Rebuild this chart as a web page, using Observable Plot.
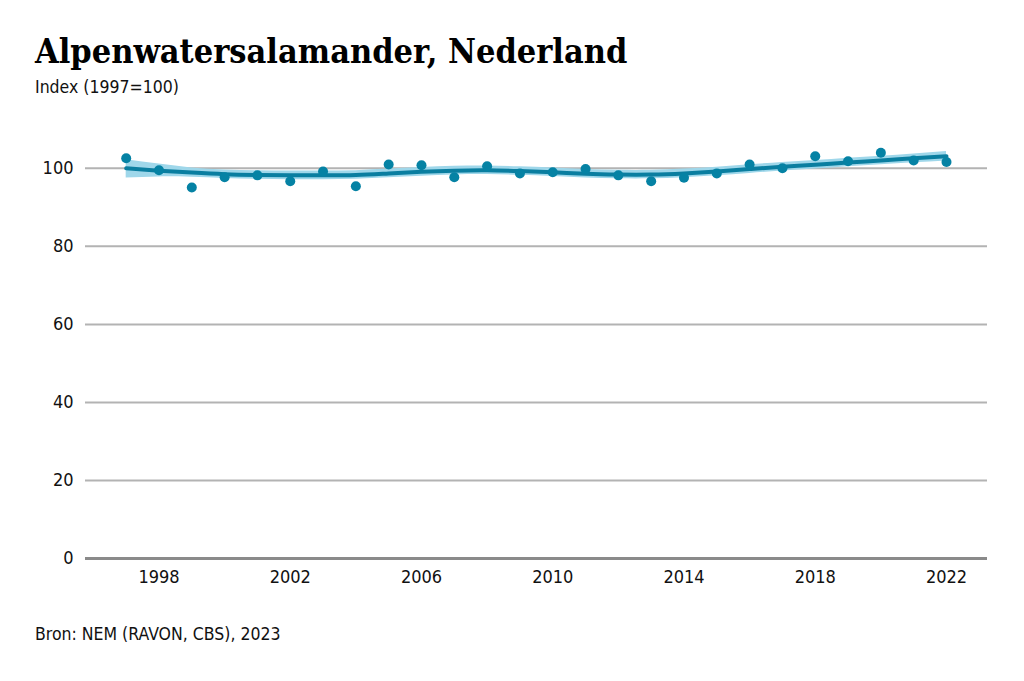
<!DOCTYPE html>
<html>
<head>
<meta charset="utf-8">
<script src="https://cdn.jsdelivr.net/npm/d3@7"></script>
<script src="https://cdn.jsdelivr.net/npm/@observablehq/plot@0.6"></script>
<style>
  html, body { margin: 0; padding: 0; background: #fff; }
  #wrap { position: relative; width: 1024px; height: 681px; overflow: hidden; }
  #title { position: absolute; left: 35px; top: 31px; font-family: "DejaVu Serif Condensed", "DejaVu Serif", serif; font-weight: bold; font-size: 34px; color: #000; white-space: nowrap; }
  #subtitle { position: absolute; left: 35px; top: 77px; font-family: "DejaVu Sans Condensed", "DejaVu Sans", sans-serif; font-size: 17.5px; color: #111; white-space: nowrap; }
  #caption { position: absolute; left: 35px; top: 624px; font-family: "DejaVu Sans Condensed", "DejaVu Sans", sans-serif; font-size: 17.5px; color: #111; white-space: nowrap; }
  #chart { position: absolute; left: 0; top: 100px; }
</style>
</head>
<body>
<div id="wrap">
  <div id="title">Alpenwatersalamander, Nederland</div>
  <div id="subtitle">Index (1997=100)</div>
  <div id="chart"></div>
  <div id="caption">Bron: NEM (RAVON, CBS), 2023</div>
</div>
<script>
const years = [1997,1998,1999,2000,2001,2002,2003,2004,2005,2006,2007,2008,2009,2010,2011,2012,2013,2014,2015,2016,2017,2018,2019,2020,2021,2022];
const index = [102.6,99.5,95.1,97.7,98.2,96.7,99.2,95.4,101.0,100.8,97.7,100.5,98.7,99.0,99.8,98.2,96.7,97.6,98.7,101.0,100.0,103.1,101.8,104.0,102.0,101.6];
const trend = [100.0,99.4,98.9,98.5,98.3,98.2,98.2,98.3,98.7,99.1,99.4,99.5,99.3,99.0,98.6,98.4,98.4,98.7,99.2,99.8,100.4,100.9,101.5,102.0,102.6,103.1];
const lower = [97.5,97.8,97.7,97.4,97.2,97.1,97.1,97.2,97.6,98.0,98.3,98.4,98.2,97.9,97.5,97.3,97.3,97.6,98.1,98.7,99.3,99.8,100.4,100.9,101.4,101.9];
const upper = [102.2,101.1,100.1,99.6,99.4,99.3,99.3,99.4,99.8,100.2,100.5,100.6,100.4,100.1,99.7,99.5,99.5,99.8,100.3,100.9,101.5,102.0,102.6,103.1,103.7,104.3];
const yTicks = [0,20,40,60,80,100];
const xTicks = [1998,2002,2006,2010,2014,2018,2022];

const rows = years.map((y, i) => ({year: y, index: index[i], trend: trend[i], lower: lower[i], upper: upper[i]}));

const chart = Plot.plot({
  width: 1024,
  height: 498,
  marginLeft: 85,
  marginRight: 37,
  marginTop: 21,
  marginBottom: 40,
  style: {fontFamily: "'DejaVu Sans Condensed', 'DejaVu Sans', sans-serif", fontSize: "18px", color: "#111", background: "#fff"},
  x: {domain: [1995.76, 2023.25], ticks: xTicks, tickFormat: d => String(d), tickSize: 0, tickPadding: 12, label: null},
  y: {domain: [0, 112], ticks: yTicks, tickSize: 0, tickPadding: 12, label: null},
  marks: [
    Plot.ruleY(yTicks.filter(d => d > 0), {stroke: "#b3b3b3", strokeWidth: 2}),
    Plot.ruleY([0], {stroke: "#8a8a8a", strokeWidth: 3}),
    Plot.areaY(rows, {x: "year", y1: "lower", y2: "upper", fill: "#9fd7ea", curve: "natural"}),
    Plot.lineY(rows, {x: "year", y: "trend", stroke: "#0a7ea0", strokeWidth: 4, curve: "natural"}),
    Plot.dot(rows, {x: "year", y: "index", r: 5, fill: "#0582a4", stroke: "none"})
  ]
});
document.getElementById("chart").appendChild(chart);
</script>
</body>
</html>
